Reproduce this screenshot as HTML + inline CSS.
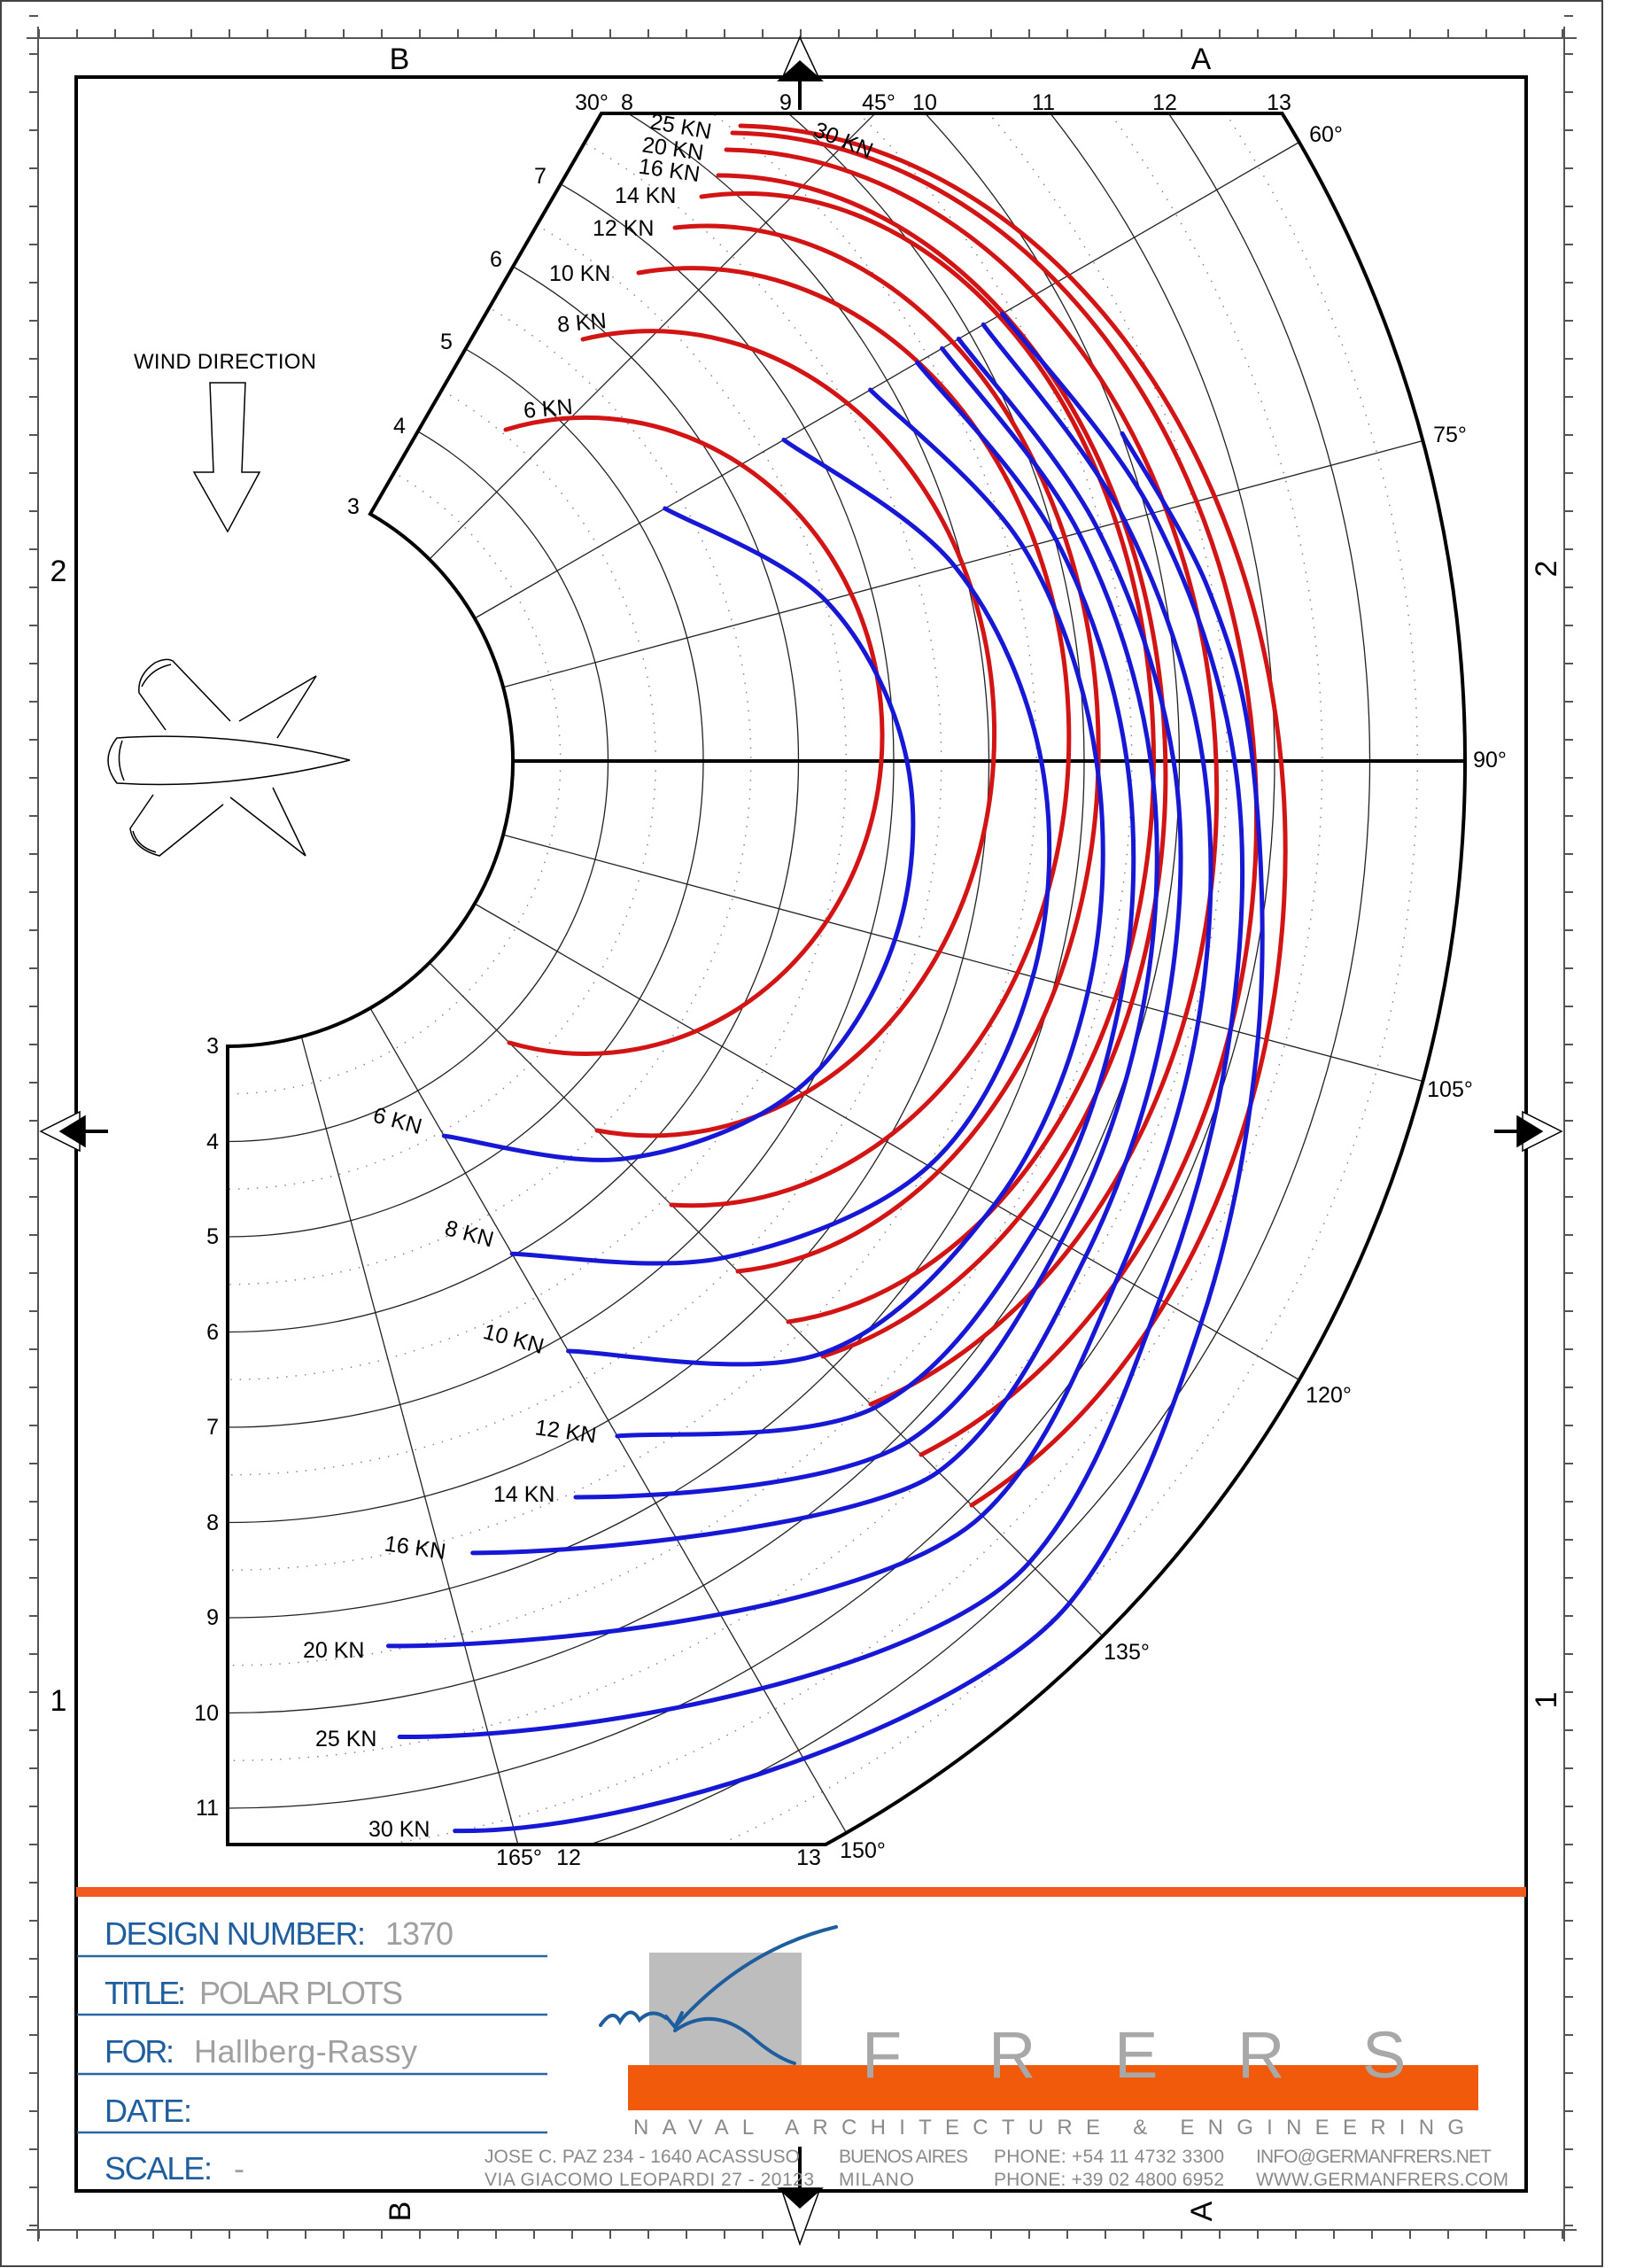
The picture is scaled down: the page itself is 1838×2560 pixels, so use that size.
<!DOCTYPE html>
<html><head><meta charset="utf-8"><style>
html,body{margin:0;padding:0;background:#fff;}
svg{display:block;}
text{font-family:"Liberation Sans",sans-serif;}
</style></head><body>
<svg width="1838" height="2560" viewBox="0 0 1838 2560" xmlns="http://www.w3.org/2000/svg">
<defs>
<clipPath id="gc"><polygon points="257,859 679,128 1838,128 1838,2082 257,2082"/></clipPath>
</defs>
<rect x="0" y="0" width="1838" height="2560" fill="#fff"/>
<rect x="1" y="1" width="1808" height="2557" fill="none" stroke="#444" stroke-width="2"/>
<g stroke="#555" stroke-width="2" fill="none">
<line x1="30" y1="43" x2="1780" y2="43"/>
<line x1="30" y1="2517" x2="1780" y2="2517"/>
<line x1="43" y1="30" x2="43" y2="2530"/>
<line x1="1766" y1="30" x2="1766" y2="2530"/>
</g>
<g stroke="#555" stroke-width="10" stroke-dasharray="2 41" fill="none">
<line x1="43" y1="38" x2="1768" y2="38"/>
<line x1="43" y1="2522" x2="1768" y2="2522"/>
<line x1="38" y1="17" x2="38" y2="2520"/>
<line x1="1771" y1="17" x2="1771" y2="2520"/>
</g>
<rect x="86" y="87" width="1637" height="2386" fill="none" stroke="#000" stroke-width="4"/>
<g stroke="#000" stroke-width="1.5">
<polygon points="903,42 882,91 926,91" fill="#fff"/>
<polygon points="903,69 879,91 928,91" fill="#000"/>
<line x1="903" y1="88" x2="903" y2="124" stroke-width="4"/>
<polygon points="903,2533 882,2470 926,2470" fill="#fff"/>
<polygon points="903,2492 879,2470 928,2470" fill="#000"/>
<line x1="903" y1="2423" x2="903" y2="2472" stroke-width="4"/>
<polygon points="46,1277 90,1255 90,1299" fill="#fff"/>
<polygon points="68,1277 96,1260 96,1294" fill="#000"/>
<line x1="94" y1="1277" x2="122" y2="1277" stroke-width="4"/>
<polygon points="1763,1277 1719,1255 1719,1299" fill="#fff"/>
<polygon points="1741,1277 1713,1260 1713,1294" fill="#000"/>
<line x1="1715" y1="1277" x2="1687" y2="1277" stroke-width="4"/>
</g>
<g font-size="34" fill="#000">
<text x="451" y="78" text-anchor="middle">B</text>
<text x="1356" y="78" text-anchor="middle">A</text>
<text x="66" y="656" text-anchor="middle">2</text>
<text x="66" y="1931" text-anchor="middle">1</text>
<text transform="translate(1745,642) rotate(-90)" text-anchor="middle" y="12">2</text>
<text transform="translate(1745,1919) rotate(-90)" text-anchor="middle" y="12">1</text>
<text transform="translate(451,2496) rotate(-90)" text-anchor="middle" y="12">B</text>
<text transform="translate(1356,2496) rotate(-90)" text-anchor="middle" y="12">A</text>
</g>
<g clip-path="url(#gc)" fill="none">
<g stroke="#888" stroke-width="1.5" stroke-dasharray="1.5 9">
<circle cx="257" cy="859" r="375.75"/><circle cx="257" cy="859" r="483.25"/><circle cx="257" cy="859" r="590.75"/><circle cx="257" cy="859" r="698.25"/><circle cx="257" cy="859" r="805.75"/><circle cx="257" cy="859" r="913.25"/><circle cx="257" cy="859" r="1020.75"/><circle cx="257" cy="859" r="1128.25"/><circle cx="257" cy="859" r="1235.75"/><circle cx="257" cy="859" r="1343.25"/>
</g>
<g stroke="#222" stroke-width="1.3">
<circle cx="257" cy="859" r="429.5"/><circle cx="257" cy="859" r="537"/><circle cx="257" cy="859" r="644.5"/><circle cx="257" cy="859" r="752"/><circle cx="257" cy="859" r="859.5"/><circle cx="257" cy="859" r="967"/><circle cx="257" cy="859" r="1074.5"/><circle cx="257" cy="859" r="1182"/><circle cx="257" cy="859" r="1289.5"/>
<line x1="484.7" y1="631.3" x2="1244.8" y2="-128.8"/>
<line x1="535.9" y1="698" x2="1466.8" y2="160.5"/>
<line x1="568" y1="775.7" x2="1606.4" y2="497.5"/>
<line x1="568" y1="942.3" x2="1606.4" y2="1220.5"/>
<line x1="535.9" y1="1020" x2="1466.8" y2="1557.5"/>
<line x1="484.7" y1="1086.7" x2="1244.8" y2="1846.8"/>
<line x1="418" y1="1137.9" x2="955.5" y2="2068.8"/>
<line x1="340.3" y1="1170" x2="618.6" y2="2208"/>
</g>
<line x1="579" y1="859" x2="1654" y2="859" stroke="#000" stroke-width="4"/>
</g>
<path d="M257,1181 A322,322 0 0 0 418,580.1 L679,128 L1447.5,128 A1397,1397 0 0 1 932.2,2082 L257,2082 Z" fill="none" stroke="#000" stroke-width="4"/>
<g fill="none" stroke-width="5" stroke-linecap="round" stroke="#d21414">
<path d="M571,485 A334,359 0 1 1 575,1177"/>
<path d="M658,383 A387,454 0 1 1 674,1276"/>
<path d="M721,308 A426,529 0 1 1 758,1360"/>
<path d="M762,257 A442,590 0 0 1 833,1435"/>
<path d="M792,222 A461,638 0 0 1 890,1492"/>
<path d="M811,198 A506,676 0 0 1 929,1531"/>
<path d="M820,169 A560,725 0 0 1 983,1585"/>
<path d="M827,150 A598,773 0 0 1 1040,1642"/>
<path d="M836,142 A625,819 0 0 1 1097,1699"/>
</g>
<g fill="none" stroke-width="5" stroke-linecap="round" stroke="#1717d6">
<path d="M750.8,573.9 C781.1,591.2 886.9,630.5 932.4,678 S1011,795.2 1024,859 S1031,998.9 1010.3,1060.8 S950.6,1188.9 899.8,1230.1 S772.2,1299.1 705.8,1307.8 S535.4,1286.4 501.3,1282.1"/>
<path d="M884.9,496.5 C917,520.3 1029.3,578.7 1077.8,639.1 S1160.9,781.7 1175.6,859 S1187.2,1026.4 1166,1102.6 S1106.8,1263.3 1048.7,1316.1 S896,1403.1 817.6,1419.6 S618.1,1415.9 578.2,1415.2"/>
<path d="M982.6,440 C1011.5,469.7 1113.1,548.4 1155.7,618.2 S1225.8,775.5 1237.9,859 S1247.4,1035.9 1228.3,1119.3 S1175.1,1290.9 1123.2,1359.1 S1006.6,1500.6 926.3,1528.3 S689.1,1525.6 641.6,1525"/>
<path d="M1035.7,409.4 C1061.8,442.6 1152.6,533.6 1192,608.5 S1260.2,772.2 1272.3,859 S1281.7,1041.2 1264.7,1129 S1217.3,1309.3 1169.8,1386 S1065.9,1549.9 987.1,1589.1 S745.3,1615.7 696.9,1621"/>
<path d="M1063.6,393.3 C1089.3,428 1178.7,523.9 1218,601.5 S1287.1,769.9 1299.2,859 S1307.5,1045.4 1290.6,1135.9 S1242,1320.2 1197.7,1402.1 S1101.7,1578.7 1025.1,1627.1 C948,1675 760,1690 650,1690"/>
<path d="M1082.3,382.5 C1108.4,418.1 1198.2,516.6 1238.7,596 S1310.6,767.9 1325,859 S1333.2,1049.7 1316.6,1142.9 S1268.5,1331.9 1225.6,1418.3 S1134.1,1607 1059.3,1661.3 C984.5,1715.6 700,1752 533.7,1752.9"/>
<path d="M1110.2,366.4 C1136.8,403.3 1228.4,505.5 1269.8,587.6 S1344.4,764.8 1358.3,859 S1368.8,1055.8 1352.9,1152.6 S1303.6,1346.8 1262.9,1439.8 S1181.4,1643 1108.7,1710.7 C999.6,1812 650,1858 438.5,1857.9"/>
<path d="M1131.6,354 C1159.9,391.6 1257.4,495.1 1301.1,579.3 S1379.1,761.8 1393.8,859 S1403.4,1061.1 1389.3,1162.4 S1347.3,1366.3 1309.4,1466.6 S1232.7,1684 1161.9,1763.9 C1055.7,1883.7 680,1962 451.2,1960.5"/>
<path d="M1267,489.3 C1283.1,518.4 1339.3,602.3 1363.8,663.9 S1404.8,774.5 1414.2,859 S1430.1,1064.9 1420.4,1170.7 S1391.5,1387 1356,1493.5 S1279.1,1722 1207.5,1809.5 C1100,1940.8 720,2070 513.7,2066.6"/>
</g>
<text x="254" y="416" font-size="24" text-anchor="middle" textLength="206">WIND  DIRECTION</text>
<polygon points="237,432 277,432 273,533 293,533 257,600 219,533 241,533" fill="#fff" stroke="#000" stroke-width="1.5"/>
<g fill="none" stroke="#000" stroke-width="1.5">
<path d="M132,833 Q260,824 395,858 Q260,892 132,884 Q112,858 132,833 Z"/>
<path d="M138,836 Q130,858 140,881"/>
<path d="M187,824 L157,782 Q155,762 175,748 Q188,742 195,746 L260,814"/>
<path d="M160,775 Q170,755 193,750"/>
<path d="M270,814 L357,763 L313,833"/>
<path d="M173,897 L147,935 Q150,958 180,966 L252,908"/>
<path d="M150,938 Q155,956 176,962"/>
<path d="M260,900 L345,966 L308,889"/>
</g>
<g font-size="25" fill="#000">
<text x="399" y="580" text-anchor="middle">3</text>
<text x="451" y="489" text-anchor="middle">4</text>
<text x="504" y="394" text-anchor="middle">5</text>
<text x="560" y="301" text-anchor="middle">6</text>
<text x="610" y="207" text-anchor="middle">7</text>
<text x="668" y="124" text-anchor="middle">30°</text>
<text x="708" y="124" text-anchor="middle">8</text>
<text x="887" y="124" text-anchor="middle">9</text>
<text x="992" y="124" text-anchor="middle">45°</text>
<text x="1044" y="124" text-anchor="middle">10</text>
<text x="1178" y="124" text-anchor="middle">11</text>
<text x="1315" y="124" text-anchor="middle">12</text>
<text x="1444" y="124" text-anchor="middle">13</text>
<text x="1497" y="160" text-anchor="middle">60°</text>
<text x="1637" y="499" text-anchor="middle">75°</text>
<text x="1682" y="866" text-anchor="middle">90°</text>
<text x="1637" y="1238" text-anchor="middle">105°</text>
<text x="1500" y="1583" text-anchor="middle">120°</text>
<text x="1272" y="1873" text-anchor="middle">135°</text>
<text x="974" y="2097" text-anchor="middle">150°</text>
<text x="586" y="2105" text-anchor="middle">165°</text>
<text x="642" y="2105" text-anchor="middle">12</text>
<text x="913" y="2105" text-anchor="middle">13</text>
<g text-anchor="end">
<text x="247" y="1189">3</text><text x="247" y="1297">4</text><text x="247" y="1404">5</text><text x="247" y="1512">6</text><text x="247" y="1619">7</text><text x="247" y="1727">8</text><text x="247" y="1834">9</text><text x="247" y="1942">10</text><text x="247" y="2049">11</text>
</g>
<text x="734" y="152" transform="rotate(10 774 143)">25  KN</text>
<text x="917" y="168" transform="rotate(22 956 160)">30  KN</text>
<text x="725" y="177" transform="rotate(8 766 168)">20  KN</text>
<text x="721" y="201" transform="rotate(8 760 192)">16  KN</text>
<text x="694" y="229">14  KN</text>
<text x="669" y="266">12  KN</text>
<text x="620" y="317">10  KN</text>
<text x="629" y="372" transform="rotate(-5 662 363)">8  KN</text>
<text x="591" y="469" transform="rotate(-5 625 460)">6  KN</text>
<text x="421" y="1275" transform="rotate(15 455 1266)">6  KN</text>
<text x="502" y="1403" transform="rotate(15 538 1394)">8  KN</text>
<text x="545" y="1522" transform="rotate(15 589 1513)">10  KN</text>
<text x="604" y="1625" transform="rotate(8 646 1616)">12  KN</text>
<text x="557" y="1695">14  KN</text>
<text x="434" y="1756" transform="rotate(8 475 1747)">16  KN</text>
<text x="342" y="1871">20  KN</text>
<text x="356" y="1971">25  KN</text>
<text x="416" y="2073">30  KN</text>
</g>
<rect x="86" y="2130" width="1637" height="11" fill="#f05a1e"/>
<g stroke="#2a64a6" stroke-width="2.5">
<line x1="87" y1="2208" x2="618" y2="2208"/>
<line x1="87" y1="2274" x2="618" y2="2274"/>
<line x1="87" y1="2341" x2="618" y2="2341"/>
<line x1="87" y1="2407" x2="618" y2="2407"/>
</g>
<g font-size="36" fill="#1f5e9e">
<text x="118" y="2195" textLength="295">DESIGN NUMBER:</text>
<text x="118" y="2262" textLength="92">TITLE:</text>
<text x="118" y="2328" textLength="79">FOR:</text>
<text x="118" y="2395" textLength="99">DATE:</text>
<text x="118" y="2460" textLength="122">SCALE:</text>
</g>
<g font-size="36" fill="#a0a0a0">
<text x="435" y="2195" textLength="77">1370</text>
<text x="225" y="2262" textLength="230">POLAR PLOTS</text>
<text x="219" y="2328" textLength="252">Hallberg-Rassy</text>
<text x="264" y="2460">-</text>
</g>
<rect x="733" y="2204" width="172" height="142" fill="#bdbdbd"/>
<rect x="709" y="2331" width="960" height="51" fill="#f05a0a"/>
<g font-size="74" fill="#a8a8a8">
<text x="973" y="2345">F</text><text x="1116" y="2345">R</text><text x="1258" y="2345">E</text><text x="1397" y="2345">R</text><text x="1538" y="2345">S</text>
</g>
<g fill="none" stroke="#1f5e9e" stroke-width="4" stroke-linecap="round">
<path d="M944,2175 Q840,2200 762,2288"/>
<path d="M752,2276 L762,2288 L770,2272"/>
<path d="M678,2286 Q692,2266 700,2282 Q712,2262 722,2280 Q736,2266 752,2278"/>
<path d="M762,2292 Q805,2262 850,2300 Q875,2322 897,2329"/>
</g>
<text x="715" y="2409" font-size="24" fill="#8a8a8a" textLength="938">NAVAL  ARCHITECTURE  &amp;  ENGINEERING</text>
<g font-size="21" fill="#8a8a8a">
<text x="547" y="2441" textLength="356">JOSE C. PAZ 234 - 1640 ACASSUSO</text>
<text x="547" y="2467" textLength="372">VIA GIACOMO LEOPARDI 27 - 20123</text>
<text x="947" y="2441" textLength="146">BUENOS AIRES</text>
<text x="947" y="2467" textLength="85">MILANO</text>
<text x="1122" y="2441" textLength="260">PHONE: +54 11 4732 3300</text>
<text x="1122" y="2467" textLength="260">PHONE: +39 02 4800 6952</text>
<text x="1418" y="2441" textLength="266">INFO@GERMANFRERS.NET</text>
<text x="1418" y="2467" textLength="285">WWW.GERMANFRERS.COM</text>
</g>
</svg>
</body></html>
